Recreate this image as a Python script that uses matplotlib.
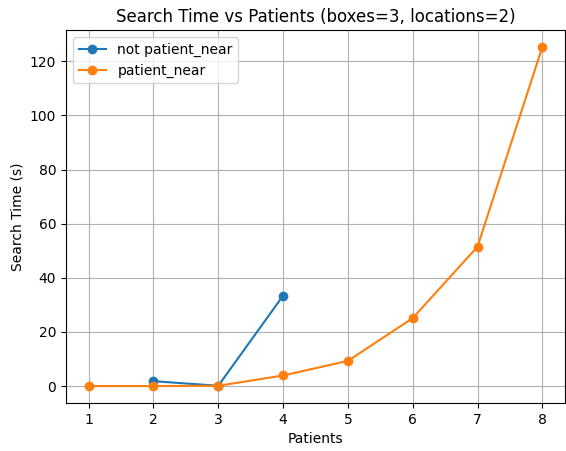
import matplotlib
matplotlib.use("Agg")
import matplotlib.pyplot as plt

patients_far = [2, 3, 4]
time_far = [1.8, 0.1, 33.4]

patients_near = [1, 2, 3, 4, 5, 6, 7, 8]
time_near = [0.0, 0.0, 0.1, 3.9, 9.3, 25.1, 51.5, 125.3]

fig, ax = plt.subplots(figsize=(5.66, 4.51), dpi=100)
ax.plot(patients_far, time_far, marker='o', label='not patient_near')
ax.plot(patients_near, time_near, marker='o', label='patient_near')
ax.set_xlabel('Patients')
ax.set_ylabel('Search Time (s)')
ax.set_title('Search Time vs Patients (boxes=3, locations=2)')
ax.legend(loc='upper left')
ax.grid(True)
fig.subplots_adjust(left=66/566, right=565/566, top=1-30/451, bottom=1-403/451)
plt.savefig('out.png')
